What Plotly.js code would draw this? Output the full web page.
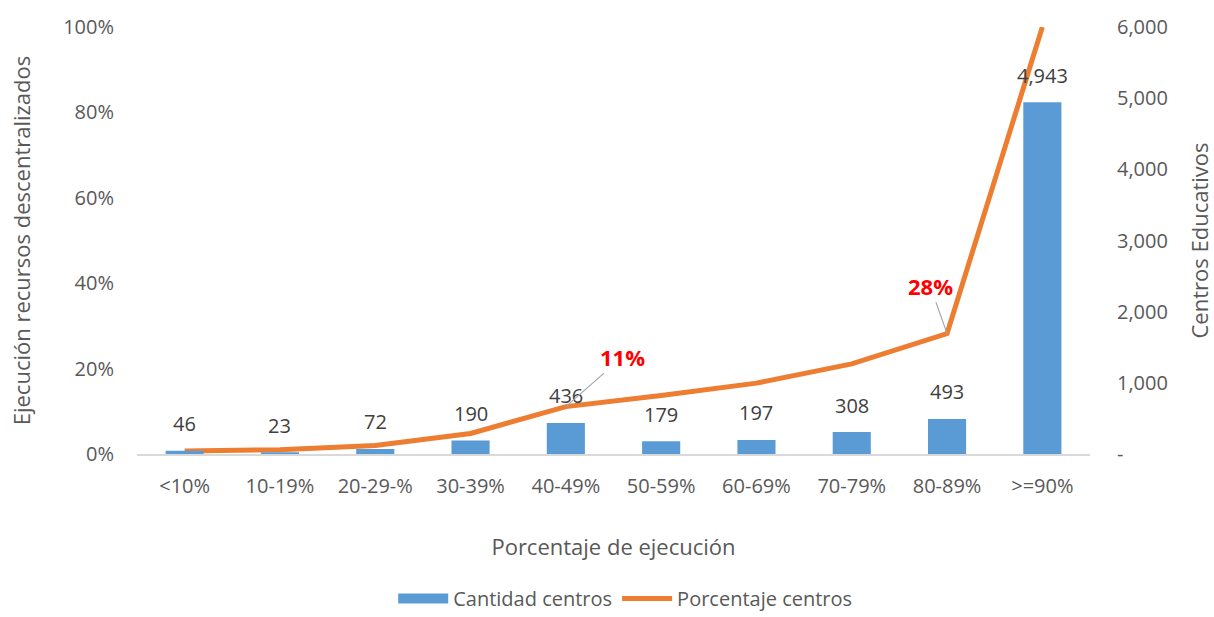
<!DOCTYPE html>
<html><head><meta charset="utf-8">
<script src="https://cdn.plot.ly/plotly-3.0.1.min.js"></script>
<style>html,body{margin:0;padding:0;background:#fff;}#chart{width:1214px;height:617px;}</style>
</head><body><div id="chart"></div>
<script>
const categories = ["<10%","10-19%","20-29-%","30-39%","40-49%","50-59%","60-69%","70-79%","80-89%",">=90%"];
const cantidadCentros = [46,23,72,190,436,179,197,308,493,4943];
const porcentajeCentros = [0.007,0.010,0.020,0.048,0.111,0.137,0.166,0.211,0.282,1.0];
const leftTicks = [0,0.2,0.4,0.6,0.8,1.0];
const leftTickText = ["0%","20%","40%","60%","80%","100%"];
const rightTicks = [0,1000,2000,3000,4000,5000,6000];
const rightTickText = ["-","1,000","2,000","3,000","4,000","5,000","6,000"];
const highlightIdx = [4,8];
const highlightText = ["11%","28%"];

const FONT = "Open Sans, Liberation Sans, sans-serif";
const gray = "#595959";

const bars = {
  type:"bar", x:categories, y:cantidadCentros, yaxis:"y2", name:"Cantidad centros",
  marker:{color:"#5B9BD5"}, showlegend:false
};
const barLegend = {
  type:"scatter", mode:"lines", x:[null], y:[null], yaxis:"y2", name:"Cantidad centros",
  line:{color:"#5B9BD5", width:13}
};
const line = {
  type:"scatter", mode:"lines", x:categories, y:porcentajeCentros, yaxis:"y", name:"Porcentaje centros",
  line:{color:"#ED7D31", width:5}, cliponaxis:false
};

const annotations = [];
categories.forEach((c,i)=>{
  annotations.push({x:c, y:cantidadCentros[i], xref:"x", yref:"y2", text:cantidadCentros[i].toLocaleString("en-US"),
    showarrow:false, yanchor:"middle", yshift:27, font:{family:FONT,size:20,color:"#404040"}});
});
const offs = [[57,-50],[-17,-48]];
highlightIdx.forEach((idx,k)=>{
  annotations.push({x:categories[idx], y:porcentajeCentros[idx], xref:"x", yref:"y", text:"<b>"+highlightText[k]+"</b>",
    showarrow:true, arrowhead:0, arrowwidth:1.2, arrowcolor:"#A6A6A6", ax:offs[k][0], ay:offs[k][1],
    font:{family:FONT,size:22,color:"#FF0000"}});
});

const layout = {
  width:1214, height:617,
  margin:{l:137, r:124, t:27, b:163, autoexpand:false},
  paper_bgcolor:"#fff", plot_bgcolor:"#fff",
  bargap:0.6,
  showlegend:true,
  legend:{orientation:"h", x:0.515, xref:"container", xanchor:"center", y:0.03, yref:"container", yanchor:"middle",
    font:{family:FONT,size:20,color:gray}, itemwidth:50, tracegroupgap:40},
  xaxis:{type:"category", showgrid:false, zeroline:false, showline:true, linecolor:"#D9D9D9", linewidth:1.5,
    ticks:"", ticklabelstandoff:13, tickfont:{family:FONT,size:20,color:gray}, automargin:false,
    title:{text:"Porcentaje de ejecución", font:{family:FONT,size:22,color:gray}, standoff:42}},
  yaxis:{range:[0,1], tickvals:leftTicks, ticktext:leftTickText, showgrid:false, zeroline:false, showline:false,
    ticks:"", ticklabelstandoff:22, tickfont:{family:FONT,size:20,color:gray}, automargin:false,
    title:{text:"Ejecución recursos descentralizados", font:{family:FONT,size:22,color:gray}, standoff:26}},
  yaxis2:{range:[0,6000], overlaying:"y", side:"right", tickvals:rightTicks, ticktext:rightTickText, showgrid:false,
    zeroline:false, showline:false, ticks:"", ticklabelstandoff:26, tickfont:{family:FONT,size:20,color:gray}, automargin:false,
    title:{text:"Centros Educativos", font:{family:FONT,size:22,color:gray}, standoff:28}},
  annotations:annotations
};
Plotly.newPlot("chart",[bars,barLegend,line],layout,{displayModeBar:false, staticPlot:true});
</script></body></html>
